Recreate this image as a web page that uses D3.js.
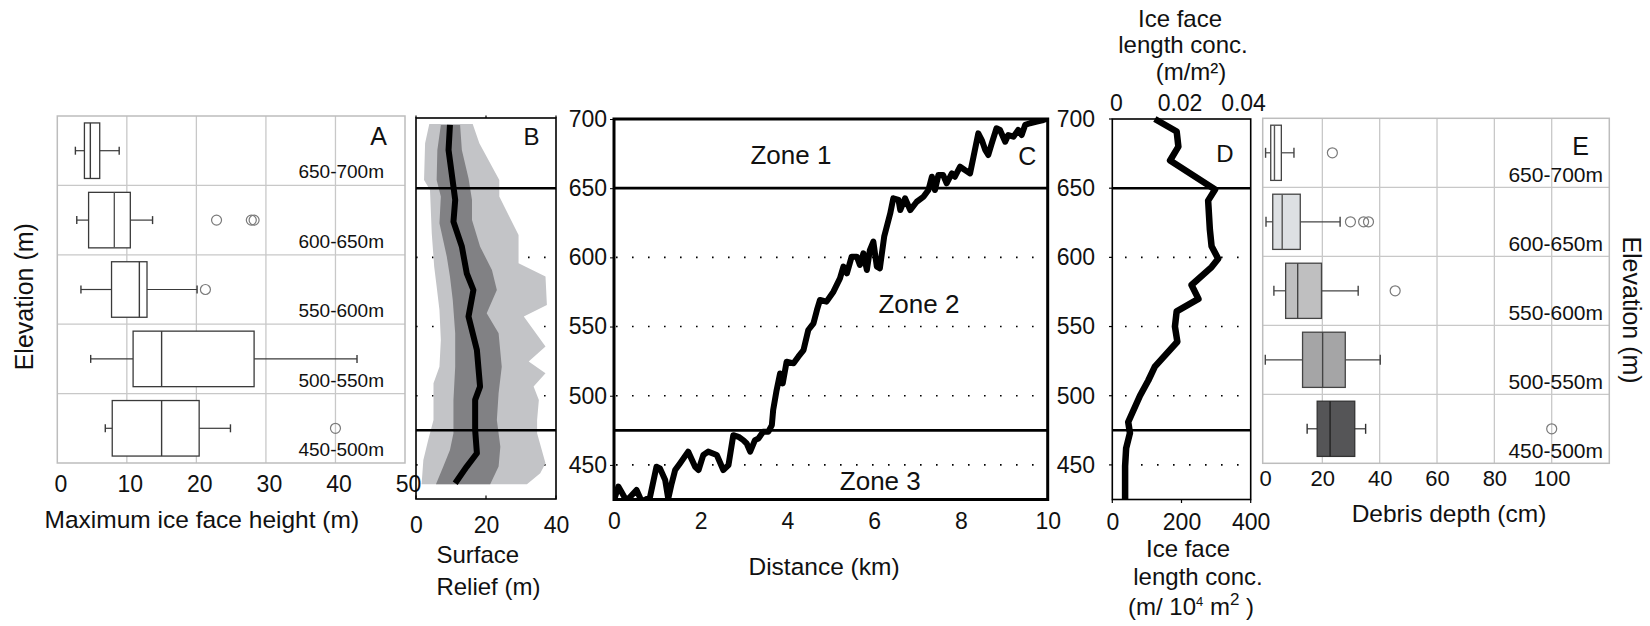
<!DOCTYPE html>
<html>
<head>
<meta charset="utf-8">
<script src="https://cdn.jsdelivr.net/npm/d3@7"></script>
<style>
  body { margin: 0; background: #fff; }
  svg { display: block; }
  text { font-family: "Liberation Sans", Arial, Helvetica, sans-serif; fill: #111; }
</style>
</head>
<body>
<svg id="chart" width="1650" height="626"></svg>
<script>
// ---------- shared ----------
const elevationBands = ["650-700m", "600-650m", "550-600m", "500-550m", "450-500m"];
const elevationTicks = [700, 650, 600, 550, 500, 450];
const dottedElevations = [600, 550, 500, 450];
const zoneBoundaries = [650, 475];

// ---------- A: maximum ice face height (m) ----------
const iceTicks = [0, 10, 20, 30, 40, 50];
const iceWhiskerLow  = [2.6, 2.8, 3.4, 4.8, 6.9];
const iceQ1          = [3.9, 4.5, 7.8, 10.9, 7.9];
const iceMedian      = [4.75, 8.2, 11.8, 15.0, 15.0];
const iceQ3          = [6.1, 10.5, 12.9, 28.3, 20.4];
const iceWhiskerHigh = [8.9, 13.7, 20.1, 43.1, 24.9];
const iceOutliers    = [[], [22.9, 27.9, 28.3], [21.3], [], [40.0]];

// ---------- B: surface relief (m) ----------
const reliefTicks = [0, 20, 40];
// each edge: [relief, elevation]
const reliefOuterLeft = [[3.8,696.4],[2.6,682.4],[2.3,655.9],[4.0,648.7],[4.5,617.4],[5.2,593.3],[5.9,578.9],[6.7,562.0],[7.1,540.3],[6.7,521.0],[5.0,509.0],[5.0,482.5],[3.5,468.1],[2.1,453.6],[1.6,436.0]];
const reliefOuterRight = [[16.2,696.4],[18.1,682.4],[23.8,655.9],[23.8,643.9],[29.3,616.2],[29.3,595.7],[37.0,586.1],[37.4,565.6],[30.8,557.2],[37.0,535.5],[32.2,524.7],[37.0,516.2],[33.6,506.6],[35.1,497.0],[34.6,482.5],[34.6,472.9],[37.0,451.2],[35.5,444.0],[31.7,436.0]];
const reliefInnerLeft = [[7.1,695.7],[6.1,677.6],[5.9,655.9],[7.1,643.9],[6.7,624.6],[8.8,600.5],[9.7,586.1],[10.5,569.2],[11.2,545.1],[11.2,521.0],[10.7,497.0],[10.7,472.9],[9.7,460.8],[7.8,448.8],[5.7,436.0]];
const reliefInnerRight = [[12.6,695.7],[13.1,677.6],[15.0,657.1],[16.0,641.5],[16.0,627.0],[18.3,607.8],[21.7,590.9],[23.1,576.4],[20.2,559.6],[23.6,545.1],[24.5,521.0],[23.6,501.8],[23.1,482.5],[24.1,463.2],[23.6,448.8],[21.2,436.0]];
const reliefMedian = [[9.7,695.7],[9.3,677.6],[10.7,651.1],[11.2,641.5],[10.7,625.8],[13.1,607.8],[14.5,588.5],[16.4,576.4],[15.0,557.2],[17.4,533.1],[18.3,506.6],[16.9,497.0],[16.9,475.3],[17.4,458.4],[14.5,448.8],[11.2,436.8]];

// ---------- C: elevation profile along distance ----------
const distanceTicks = [0, 2, 4, 6, 8, 10];
const profileDistance = [0.00,0.10,0.18,0.29,0.52,0.64,0.83,0.98,1.06,1.18,1.25,1.33,1.41,1.52,1.71,1.87,1.95,2.06,2.17,2.37,2.52,2.64,2.75,2.87,2.98,3.06,3.14,3.25,3.33,3.44,3.56,3.64,3.67,3.75,3.83,3.89,3.98,4.14,4.25,4.37,4.48,4.60,4.68,4.75,4.90,5.06,5.21,5.29,5.37,5.48,5.60,5.67,5.75,5.83,5.90,5.98,6.06,6.13,6.23,6.37,6.44,6.56,6.60,6.71,6.83,6.98,7.14,7.25,7.33,7.40,7.48,7.59,7.67,7.79,7.86,7.98,8.09,8.21,8.29,8.40,8.48,8.56,8.63,8.71,8.82,8.90,9.02,9.09,9.21,9.32,9.40,9.48,9.59,9.75,9.90,10.00];
const profileElevation = [424.5,434.3,430.0,424.0,431.9,423.5,426.7,448.7,447.5,439.1,425.5,436.6,446.3,451.1,459.6,448.7,446.3,457.2,459.6,457.2,446.3,449.9,471.5,470.3,467.9,465.5,459.6,467.9,469.1,474.0,474.0,478.8,489.7,504.1,516.1,508.9,524.6,523.4,528.2,533.0,547.5,552.3,562.0,569.2,568.0,575.2,584.8,593.3,588.4,600.5,600.5,594.5,602.9,590.9,605.3,611.4,593.3,592.1,615.0,631.8,642.7,641.5,634.2,642.7,634.2,640.2,643.9,648.7,658.3,648.7,659.5,659.5,653.5,660.7,658.3,665.5,663.1,660.7,672.8,689.6,684.8,677.6,674.0,682.4,693.3,692.1,683.6,688.4,687.2,692.1,688.4,695.7,696.9,698.1,699.3,700.5];
const zoneNames = ["Zone 1", "Zone 2", "Zone 3"];

// ---------- D: ice face length concentration ----------
const concTicksBottom = [0, 200, 400];
const concTicksTop = [0, 0.02, 0.04];
const concElevation = [700,691,680,670,649,641,620,608,599,593,580,570,561,550,539,521,511,500,481,473,462,449,425];
const concValue     = [123,186,191,167,297,277,282,287,306,287,229,249,186,181,188,123,104,80,46,51,40,37,37];

// ---------- E: debris depth (cm) ----------
const debrisTicks = [0, 20, 40, 60, 80, 100];
const debrisWhiskerLow  = [0.2, 0.35, 3.1, 0.1, 14.7];
const debrisQ1          = [2.0, 2.7, 7.2, 13.1, 18.2];
const debrisMedian      = [3.3, 6.0, 11.4, 20.1, 22.7];
const debrisQ3          = [5.7, 12.3, 19.7, 28.0, 31.3];
const debrisWhiskerHigh = [10.1, 26.2, 32.5, 40.2, 35.1];
const debrisOutliers    = [[23.5], [29.8, 34.4, 36.1], [45.4], [], [100]];
const debrisFill = ["#ffffff", "#dde0e3", "#bfbfc0", "#a5a5a6", "#555557"];

// ======================================================
const svg = d3.select("#chart");
const yElev = d3.scaleLinear().domain([425, 700]).range([499.5, 119]);
const tickFont = "23px";

function styleAxis(g, size) {
  g.select(".domain").remove();
  g.selectAll("text").style("font-size", size || tickFont).attr("fill", "#111")
    .style("font-family", '"Liberation Sans", Arial, sans-serif');
  g.selectAll("line").attr("stroke", "#000");
}

// ---------- box plot panel ----------
function boxPanel(cfg) {
  const x = d3.scaleLinear().domain(cfg.domain).range(cfg.range);
  const yb = d3.scaleBand().domain(elevationBands).range([cfg.top, cfg.bottom]);
  const g = svg.append("g");
  const left = cfg.frameLeft, right = cfg.frameRight;
  // grid
  g.selectAll(".vg").data(cfg.grid).join("line")
    .attr("x1", d => x(d)).attr("x2", d => x(d))
    .attr("y1", cfg.top).attr("y2", cfg.bottom)
    .attr("stroke", "#c8c8c8").attr("stroke-width", 1.3);
  g.selectAll(".hg").data(elevationBands.slice(1)).join("line")
    .attr("x1", left).attr("x2", right)
    .attr("y1", d => yb(d)).attr("y2", d => yb(d))
    .attr("stroke", "#c8c8c8").attr("stroke-width", 1.3);
  g.append("rect").attr("x", left).attr("y", cfg.top)
    .attr("width", right - left).attr("height", cfg.bottom - cfg.top)
    .attr("fill", "none").attr("stroke", "#bdbdbd").attr("stroke-width", 1.5);

  const bw = yb.bandwidth();
  elevationBands.forEach((band, i) => {
    const cy = yb(band) + bw / 2;
    const h = bw * 0.8;
    const stroke = cfg.strokes[i];
    const wl = cfg.lo[i], wh = cfg.hi[i];
    g.append("line").attr("x1", x(wl)).attr("x2", x(cfg.q1[i])).attr("y1", cy).attr("y2", cy)
      .attr("stroke", stroke).attr("stroke-width", 1.2);
    g.append("line").attr("x1", x(cfg.q3[i])).attr("x2", x(wh)).attr("y1", cy).attr("y2", cy)
      .attr("stroke", stroke).attr("stroke-width", 1.2);
    [wl, wh].forEach(v => g.append("line").attr("x1", x(v)).attr("x2", x(v))
      .attr("y1", cy - cfg.cap / 2).attr("y2", cy + cfg.cap / 2)
      .attr("stroke", stroke).attr("stroke-width", 1.4));
    g.append("rect").attr("x", x(cfg.q1[i])).attr("y", cy - h / 2)
      .attr("width", x(cfg.q3[i]) - x(cfg.q1[i])).attr("height", h)
      .attr("fill", cfg.fills[i]).attr("stroke", stroke).attr("stroke-width", 1.3);
    g.append("line").attr("x1", x(cfg.med[i])).attr("x2", x(cfg.med[i]))
      .attr("y1", cy - h / 2).attr("y2", cy + h / 2)
      .attr("stroke", cfg.medStrokes[i]).attr("stroke-width", 1.4);
    g.selectAll(null).data(cfg.out[i]).join("circle")
      .attr("cx", d => x(d)).attr("cy", cy).attr("r", 5)
      .attr("fill", "none").attr("stroke", "#7a7a7a").attr("stroke-width", 1.2);
    g.append("text").attr("x", cfg.labelX).attr("y", yb(band) + bw - cfg.labelLift)
      .attr("text-anchor", "end").style("font-size", cfg.labelSize).text(band);
  });

  const ax = g.append("g").attr("transform", `translate(0,${cfg.bottom})`)
    .call(d3.axisBottom(x).tickValues(cfg.ticks).tickSize(0).tickPadding(cfg.tickPad).tickFormat(d3.format("d")));
  styleAxis(ax, cfg.tickSize);
  ax.selectAll("text").attr("dx", cfg.tickDx || 0);
  g.append("text").attr("x", cfg.letterX).attr("y", cfg.letterY).attr("text-anchor", "middle")
    .style("font-size", "25px").text(cfg.letter);
  return x;
}

// Panel A
boxPanel({
  domain: [0, 50], range: [57.3, 405], frameLeft: 57.3, frameRight: 405,
  top: 116, bottom: 463, grid: [10, 20, 30, 40], ticks: iceTicks,
  lo: iceWhiskerLow, q1: iceQ1, med: iceMedian, q3: iceQ3, hi: iceWhiskerHigh, out: iceOutliers,
  fills: ["#fff", "#fff", "#fff", "#fff", "#fff"],
  strokes: ["#3a3a3a", "#3a3a3a", "#3a3a3a", "#3a3a3a", "#3a3a3a"],
  medStrokes: ["#3a3a3a", "#555", "#3a3a3a", "#3a3a3a", "#3a3a3a"],
  cap: 8, labelX: 384, labelSize: "19px", labelLift: 7,
  tickPad: 13, tickSize: "23px", tickDx: 3,
  letter: "A", letterX: 378.5, letterY: 145
});

// Panel E
boxPanel({
  domain: [0, 100], range: [1265, 1551.7], frameLeft: 1262.7, frameRight: 1609.3,
  top: 118.3, bottom: 463.3, grid: [20, 40, 60, 80, 100], ticks: debrisTicks,
  lo: debrisWhiskerLow, q1: debrisQ1, med: debrisMedian, q3: debrisQ3, hi: debrisWhiskerHigh, out: debrisOutliers,
  fills: debrisFill,
  strokes: ["#444", "#444", "#444", "#444", "#333"],
  medStrokes: ["#555", "#555", "#444", "#444", "#222"],
  cap: 10, labelX: 1603, labelSize: "21px", labelLift: 5,
  tickPad: 7, tickSize: "22px", tickDx: 0,
  letter: "E", letterX: 1580.5, letterY: 155
});

// ---------- dotted elevation guides ----------
function dotted(g, x0, x1, startGap) {
  g.selectAll(null).data(dottedElevations).join("line")
    .attr("x1", x0).attr("x2", x1)
    .attr("y1", d => yElev(d)).attr("y2", d => yElev(d))
    .attr("stroke", "#000").attr("stroke-width", 1.6)
    .attr("stroke-dasharray", "1.6 14.4").attr("stroke-dashoffset", -startGap);
}
function zoneLines(g, x0, x1, w) {
  g.selectAll(null).data(zoneBoundaries).join("line")
    .attr("x1", x0).attr("x2", x1)
    .attr("y1", d => yElev(d)).attr("y2", d => yElev(d))
    .attr("stroke", "#000").attr("stroke-width", w);
}

// ---------- Panel B ----------
{
  const x = d3.scaleLinear().domain([0, 40]).range([416, 556]);
  const g = svg.append("g");
  dotted(g, 416, 556, 0);
  const area = (lft, rgt) => d3.line().x(d => x(d[0])).y(d => yElev(d[1]))(lft.concat(rgt.slice().reverse())) + "Z";
  g.append("path").attr("d", area(reliefOuterLeft, reliefOuterRight)).attr("fill", "#c3c4c7");
  g.append("path").attr("d", area(reliefInnerLeft, reliefInnerRight)).attr("fill", "#818184");
  g.append("path").attr("d", d3.line().x(d => x(d[0])).y(d => yElev(d[1]))(reliefMedian))
    .attr("fill", "none").attr("stroke", "#000").attr("stroke-width", 6).attr("stroke-linejoin", "round");
  zoneLines(g, 416, 556, 2.5);
  g.append("rect").attr("x", 416).attr("y", 118).attr("width", 140).attr("height", 381)
    .attr("fill", "none").attr("stroke", "#000").attr("stroke-width", 1.6);
  // short ticks on the frame
  g.selectAll(null).data(reliefTicks).join("line")
    .attr("x1", d => x(d)).attr("x2", d => x(d)).attr("y1", 118).attr("y2", 115.5)
    .attr("stroke", "#000").attr("stroke-width", 1.2);
  g.selectAll(null).data(reliefTicks).join("line")
    .attr("x1", d => x(d)).attr("x2", d => x(d)).attr("y1", 499).attr("y2", 495.5)
    .attr("stroke", "#000").attr("stroke-width", 1.2);
  const ax = g.append("g").attr("transform", "translate(0,499)")
    .call(d3.axisBottom(x).tickValues(reliefTicks).tickSize(0).tickPadding(18));
  styleAxis(ax);
  g.append("text").attr("x", x(33)).attr("y", 145).attr("text-anchor", "middle").style("font-size", "24px").text("B");
  g.append("text").attr("x", 436.4).attr("y", 563).style("font-size", "24px").text("Surface");
  g.append("text").attr("x", 436.4).attr("y", 595).style("font-size", "24px").text("Relief (m)");
}

// ---------- Panel C ----------
{
  const x = d3.scaleLinear().domain([0, 10]).range([614, 1047.7]);
  const g = svg.append("g");
  svg.append("defs").append("clipPath").attr("id", "clipC")
    .append("rect").attr("x", 614).attr("y", yElev(700)).attr("width", 433.7).attr("height", yElev(425) - yElev(700));
  dotted(g, 614, 1047.7, 18);
  zoneLines(g, 614, 1047.7, 2.8);
  const pts = profileDistance.map((d, i) => [d, profileElevation[i]]);
  g.append("path").attr("clip-path", "url(#clipC)")
    .attr("d", d3.line().x(d => x(d[0])).y(d => yElev(d[1]))(pts))
    .attr("fill", "none").attr("stroke", "#000").attr("stroke-width", 6).attr("stroke-linejoin", "round");
  g.append("rect").attr("x", 614).attr("y", yElev(700)).attr("width", 433.7).attr("height", yElev(425) - yElev(700))
    .attr("fill", "none").attr("stroke", "#000").attr("stroke-width", 3);
  const axL = g.append("g").attr("transform", "translate(614,0)")
    .call(d3.axisLeft(yElev).tickValues(elevationTicks).tickSize(4).tickPadding(3));
  styleAxis(axL);
  const axR = g.append("g").attr("transform", "translate(1047.7,0)")
    .call(d3.axisRight(yElev).tickValues(elevationTicks).tickSize(0).tickPadding(9));
  styleAxis(axR);
  const axB = g.append("g").attr("transform", "translate(0,499.5)")
    .call(d3.axisBottom(x).tickValues(distanceTicks).tickSize(0).tickPadding(13));
  styleAxis(axB);
  g.append("text").attr("x", 824).attr("y", 575).attr("text-anchor", "middle").style("font-size", "24.5px").text("Distance (km)");
  g.append("text").attr("x", x(9.53)).attr("y", yElev(666.8)).attr("text-anchor", "middle").style("font-size", "25px").text("C");
  const zonePos = [[4.08, 667.5], [7.03, 559.6], [6.14, 431.9]];
  g.selectAll(null).data(zoneNames).join("text")
    .attr("x", (d, i) => x(zonePos[i][0])).attr("y", (d, i) => yElev(zonePos[i][1]))
    .attr("text-anchor", "middle").style("font-size", "26px").text(d => d);
}

// ---------- Panel D ----------
{
  const x = d3.scaleLinear().domain([0, 400]).range([1112.3, 1250.7]);
  const xTop = d3.scaleLinear().domain([0, 0.04]).range([1116, 1243]);
  const g = svg.append("g");
  dotted(g, 1125, 1251, 0);
  zoneLines(g, 1112.3, 1250.7, 2.5);
  const pts = concElevation.map((e, i) => [concValue[i], e]);
  g.append("path").attr("d", d3.line().x(d => x(d[0])).y(d => yElev(d[1]))(pts))
    .attr("fill", "none").attr("stroke", "#000").attr("stroke-width", 6.5).attr("stroke-linejoin", "round");
  g.append("rect").attr("x", 1112.3).attr("y", yElev(700)).attr("width", 138.4).attr("height", yElev(425) - yElev(700))
    .attr("fill", "none").attr("stroke", "#000").attr("stroke-width", 1.6);
  g.selectAll(null).data(elevationTicks).join("line")
    .attr("x1", 1112.3).attr("x2", 1109).attr("y1", d => yElev(d)).attr("y2", d => yElev(d))
    .attr("stroke", "#000").attr("stroke-width", 1.2);
  g.selectAll(null).data(concTicksBottom).join("line")
    .attr("x1", d => x(d)).attr("x2", d => x(d)).attr("y1", 499.5).attr("y2", 503)
    .attr("stroke", "#000").attr("stroke-width", 1.2);
  const axB = g.append("g").attr("transform", "translate(0,499.5)")
    .call(d3.axisBottom(x).tickValues(concTicksBottom).tickSize(0).tickPadding(14));
  styleAxis(axB);
  const axT = g.append("g").attr("transform", "translate(0,117)")
    .call(d3.axisTop(xTop).tickValues(concTicksTop).tickSize(0).tickPadding(6)
      .tickFormat(d => d === 0 ? "0" : d3.format(".2f")(d)));
  styleAxis(axT);
  g.append("text").attr("x", 1225).attr("y", 161.5).attr("text-anchor", "middle").style("font-size", "24px").text("D");
  const top = [["Ice face", 1180, 26.7], ["length conc.", 1183, 53.3], ["(m/m²)", 1191, 80]];
  top.forEach(t => g.append("text").attr("x", t[1]).attr("y", t[2]).attr("text-anchor", "middle")
    .style("font-size", "24px").text(t[0]));
  g.append("text").attr("x", 1188).attr("y", 557).attr("text-anchor", "middle").style("font-size", "24px").text("Ice face");
  g.append("text").attr("x", 1198).attr("y", 585).attr("text-anchor", "middle").style("font-size", "24px").text("length conc.");
  const unit = g.append("text").attr("x", 1191).attr("y", 615).attr("text-anchor", "middle").style("font-size", "24px");
  unit.append("tspan").text("(m/ 10");
  unit.append("tspan").attr("dy", -9).style("font-size", "13px").text("4");
  unit.append("tspan").attr("dy", 9).text(" m");
  unit.append("tspan").attr("dy", -10).style("font-size", "17px").text("2");
  unit.append("tspan").attr("dy", 10).text(" )");
}

// ---------- axis titles for A and E ----------
svg.append("text").attr("x", 201.8).attr("y", 527.5).attr("text-anchor", "middle")
  .style("font-size", "24.5px").text("Maximum ice face height (m)");
svg.append("text").attr("x", 1449).attr("y", 521.7).attr("text-anchor", "middle")
  .style("font-size", "24.5px").text("Debris depth (cm)");
svg.append("text").attr("transform", "translate(33.3,296.7) rotate(-90)").attr("text-anchor", "middle")
  .style("font-size", "25px").text("Elevation (m)");
svg.append("text").attr("transform", "translate(1623.3,310) rotate(90)").attr("text-anchor", "middle")
  .style("font-size", "25px").text("Elevation (m)");
</script>
</body>
</html>
